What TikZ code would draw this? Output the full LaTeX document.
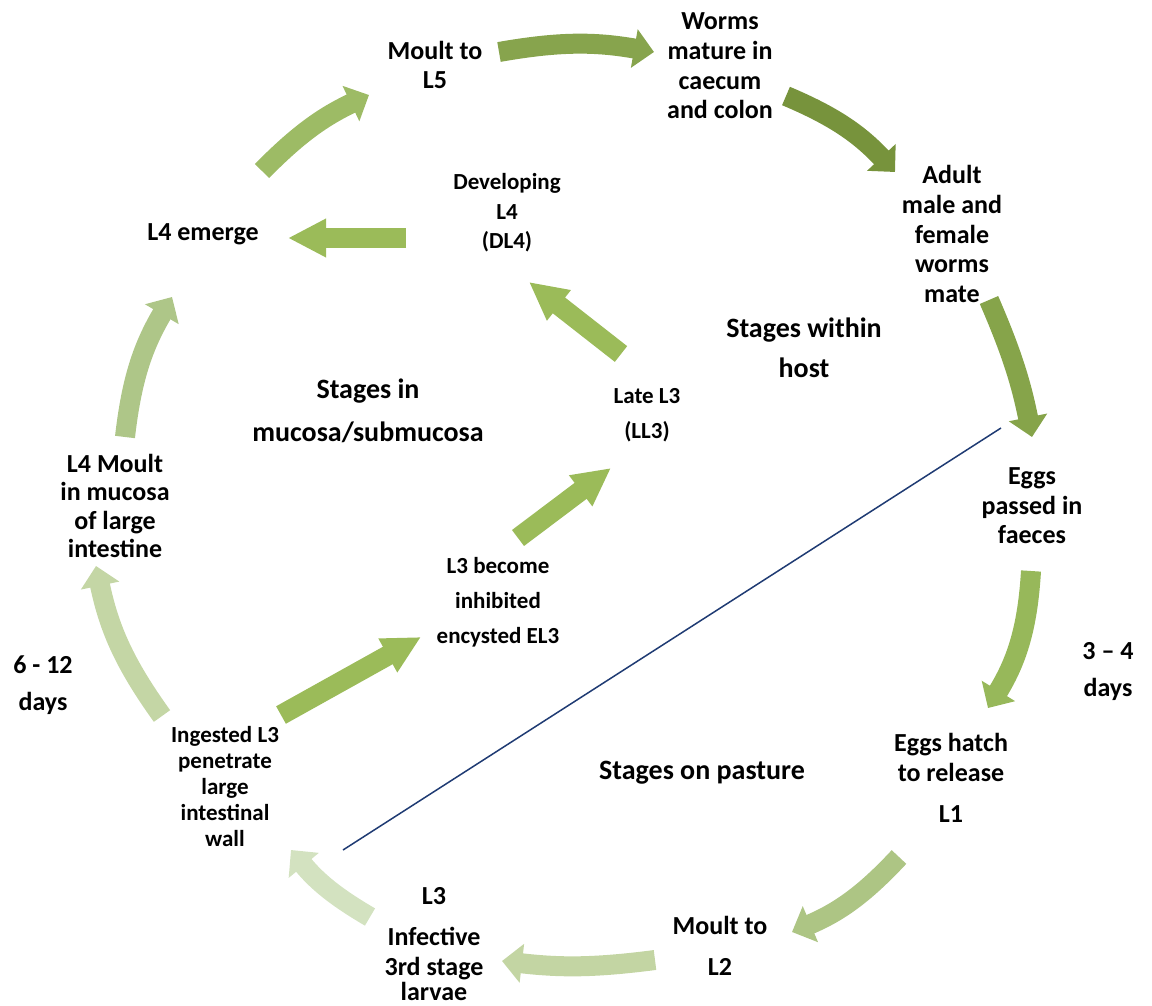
\documentclass[tikz,border=0pt]{standalone}
\usepackage{fontspec}
\setmainfont{Carlito}
\usetikzlibrary{arrows.meta}

\definecolor{gA}{HTML}{87A44D}
\definecolor{gB}{HTML}{77933C}
\definecolor{gC}{HTML}{86A44A}
\definecolor{gD}{HTML}{97B85A}
\definecolor{gE}{HTML}{ADC584}
\definecolor{gF}{HTML}{C3D5A3}
\definecolor{gG}{HTML}{D3E2C0}
\definecolor{gH}{HTML}{C4D6A5}
\definecolor{gI}{HTML}{AEC688}
\definecolor{gJ}{HTML}{9DBB65}
\definecolor{gIn}{HTML}{9BBB59}
\definecolor{divline}{HTML}{1F3B73}

\tikzset{
  lbl/.style={font=\fontsize{13}{14.8}\selectfont\bfseries, align=center, inner sep=0pt},
  small/.style={font=\fontsize{11.5}{14.8}\selectfont\bfseries, align=center, inner sep=0pt},
  stage/.style={font=\fontsize{14}{21}\selectfont\bfseries, align=center, inner sep=0pt},
  cyc/.style={line width=10pt, -{Triangle[width=19pt,length=10pt]}},
  blk/.style={line width=10pt, gIn, -{Triangle[width=18pt,length=19pt]}},
}

\begin{document}
\begin{tikzpicture}[x=0.5pt, y=-0.5pt]
  \useasboundingbox (0,0) rectangle (1152,1006);

  % Outer cycle labels
  \node[lbl] (moultL5) at (435,65) {Moult to\\L5};
  \node[lbl] (worms) at (720,66) {Worms\\mature in\\caecum\\and colon};
  \node[lbl] (adult) at (952,234) {Adult\\male and\\female\\worms\\mate};
  \node[lbl] (eggs) at (1032,506) {Eggs\\passed in\\faeces};
  \node[lbl] (hatch) at (951,778) {Eggs hatch\\to release\\[6pt]L1};
  \node[lbl] (moultL2) at (720,946) {Moult to\\[6pt]L2};
  \node[lbl] (infective) at (434,944) {L3\\[6pt]Infective\\3rd stage\\[-2pt]larvae};
  \node[small, font=\fontsize{11.5}{13}\selectfont\bfseries] (ingested) at (225,787) {Ingested L3\\penetrate\\large\\intestinal\\wall};
  \node[lbl, font=\fontsize{13}{14.3}\selectfont\bfseries] (moultL4) at (115,506) {L4 Moult\\in mucosa\\of large\\intestine};
  \node[lbl] (emergeL4) at (203,234) {L4 emerge};

  % Inner labels
  \node[small] (devL4) at (507,213) {Developing\\L4\\(DL4)};
  \node[small, font=\fontsize{11.5}{17.5}\selectfont\bfseries] (lateL3) at (647,415) {Late L3\\(LL3)};
  \node[small, font=\fontsize{11.5}{17.5}\selectfont\bfseries] (inhibL3) at (498,602) {L3 become\\inhibited\\encysted EL3};

  % Durations
  \node[lbl, font=\fontsize{13}{18.5}\selectfont\bfseries] (days34) at (1108,672) {3 – 4\\days};
  \node[lbl, font=\fontsize{13}{18.5}\selectfont\bfseries] (days612) at (43,685) {6 - 12\\days};

  % Stage headings
  \node[stage, font=\fontsize{14}{21.5}\selectfont\bfseries] (stMucosa) at (368,411) {Stages in\\mucosa/submucosa};
  \node[stage, font=\fontsize{14}{20}\selectfont\bfseries] (stHost) at (804,348) {Stages within\\host};
  \node[stage] (stPasture) at (702,773) {Stages on pasture};

  % Arrow ends
  \coordinate (t1) at (499,52);   \coordinate (h1) at (654,52);
  \coordinate (t2) at (786,96);   \coordinate (h2) at (895,172);
  \coordinate (t3) at (989,300);  \coordinate (h3) at (1032,437);
  \coordinate (t4) at (1031,571); \coordinate (h4) at (988,708);
  \coordinate (t5) at (899,857);  \coordinate (h5) at (792,932);
  \coordinate (t6) at (655,960);  \coordinate (h6) at (502,961);
  \coordinate (t7) at (370,917);  \coordinate (h7) at (291,850);
  \coordinate (t8) at (162,716);  \coordinate (h8) at (96,566);
  \coordinate (t9) at (125,437);  \coordinate (h9) at (172,297);
  \coordinate (t10) at (262,171); \coordinate (h10) at (369,95);

  % Outer cycle
  \draw[cyc, gA] (t1) to[bend left=10] (h1);
  \draw[cyc, gB] (t2) to[bend left=12] (h2);
  \draw[cyc, gC] (t3) to[bend left=6] (h3);
  \draw[cyc, gD] (t4) to[bend left=14] (h4);
  \draw[cyc, gE] (t5) to[bend left=12] (h5);
  \draw[cyc, gF] (t6) to[bend left=7] (h6);
  \draw[cyc, gG] (t7) to[bend left=10] (h7);
  \draw[cyc, gH] (t8) to[bend left=12] (h8);
  \draw[cyc, gI] (t9) to[bend left=12] (h9);
  \draw[cyc, gJ] (t10) to[bend left=10] (h10);

  % Inner route
  \coordinate (t11) at (406,238); \coordinate (h11) at (288,238);
  \coordinate (t12) at (621,354); \coordinate (h12) at (529,282);
  \coordinate (t13) at (518,538); \coordinate (h13) at (611,468);
  \coordinate (t14) at (281,715); \coordinate (h14) at (421,637);
  \draw[blk] (t11) -- (h11);
  \draw[blk] (t12) -- (h12);
  \draw[blk] (t13) -- (h13);
  \draw[blk] (t14) -- (h14);

  % Host / pasture divide
  \coordinate (dA) at (343,850);
  \coordinate (dB) at (1001,428);
  \draw[divline, line width=0.75pt] (dA) -- (dB);
\end{tikzpicture}
\end{document}
